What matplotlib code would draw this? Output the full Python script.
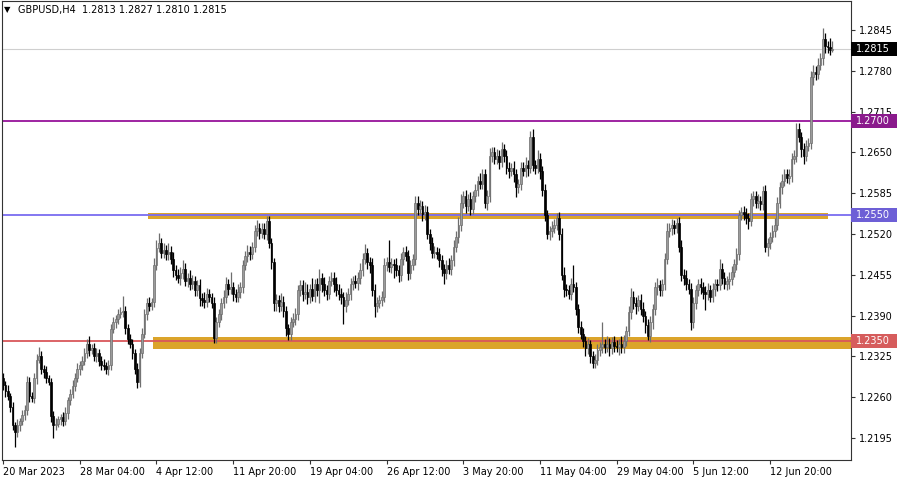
import matplotlib
matplotlib.use('Agg')
import matplotlib.pyplot as plt
import numpy as np
from matplotlib import transforms
from matplotlib.patches import Rectangle

plt.rcParams['font.family'] = 'DejaVu Sans'

# GBPUSD H4 closes (open = previous close)
first_open = 1.2290
closes = [
    1.2280, 1.2270, 1.2262, 1.2245, 1.2215, 1.2205, 1.2215, 1.2222, 1.2232, 1.2240,
    1.2285, 1.2262, 1.2258, 1.2290, 1.2320, 1.2325, 1.2305, 1.2300, 1.2290, 1.2285,
    1.2230, 1.2215, 1.2218, 1.2225, 1.2228, 1.2222, 1.2235, 1.2255, 1.2265, 1.2278,
    1.2290, 1.2305, 1.2312, 1.2318, 1.2330, 1.2345, 1.2335, 1.2338, 1.2325, 1.2330,
    1.2318, 1.2312, 1.2310, 1.2305, 1.2312, 1.2368, 1.2380, 1.2385, 1.2392, 1.2395,
    1.2398, 1.2370, 1.2352, 1.2345, 1.2330, 1.2305, 1.2285, 1.2330, 1.2360, 1.2392,
    1.2410, 1.2405, 1.2412, 1.2470, 1.2498, 1.2505, 1.2490, 1.2495, 1.2488, 1.2492,
    1.2480, 1.2462, 1.2455, 1.2450, 1.2458, 1.2465, 1.2445, 1.2450, 1.2440, 1.2445,
    1.2430, 1.2438, 1.2418, 1.2415, 1.2412, 1.2425, 1.2420, 1.2410, 1.2355, 1.2380,
    1.2392, 1.2410, 1.2420, 1.2440, 1.2432, 1.2435, 1.2425, 1.2420, 1.2428, 1.2435,
    1.2470, 1.2485, 1.2492, 1.2488, 1.2500, 1.2525, 1.2530, 1.2522, 1.2528, 1.2520,
    1.2540, 1.2505, 1.2475, 1.2410, 1.2415, 1.2405, 1.2412, 1.2398, 1.2370, 1.2360,
    1.2380, 1.2385, 1.2392, 1.2430, 1.2438, 1.2425, 1.2428, 1.2420, 1.2432, 1.2422,
    1.2440, 1.2430, 1.2450, 1.2440, 1.2430, 1.2425, 1.2445, 1.2450, 1.2440, 1.2430,
    1.2425, 1.2420, 1.2405, 1.2415, 1.2425, 1.2440, 1.2445, 1.2442, 1.2450, 1.2462,
    1.2480, 1.2490, 1.2475, 1.2470, 1.2430, 1.2405, 1.2410, 1.2415, 1.2420, 1.2470,
    1.2475, 1.2468, 1.2472, 1.2470, 1.2462, 1.2455, 1.2480, 1.2492, 1.2485, 1.2458,
    1.2470, 1.2480, 1.2570, 1.2560, 1.2565, 1.2552, 1.2555, 1.2520, 1.2505, 1.2490,
    1.2492, 1.2488, 1.2478, 1.2465, 1.2458, 1.2470, 1.2465, 1.2478, 1.2500, 1.2515,
    1.2535, 1.2570, 1.2580, 1.2565, 1.2575, 1.2560, 1.2580, 1.2590, 1.2605, 1.2600,
    1.2615, 1.2570, 1.2580, 1.2645, 1.2650, 1.2640, 1.2645, 1.2635, 1.2655, 1.2645,
    1.2625, 1.2620, 1.2625, 1.2615, 1.2595, 1.2600, 1.2625, 1.2620, 1.2630, 1.2625,
    1.2675, 1.2630, 1.2625, 1.2640, 1.2620, 1.2590, 1.2550, 1.2520, 1.2525, 1.2530,
    1.2535, 1.2545, 1.2520, 1.2455, 1.2432, 1.2430, 1.2425, 1.2440, 1.2435, 1.2400,
    1.2372, 1.2360, 1.2350, 1.2338, 1.2345, 1.2325, 1.2315, 1.2320, 1.2335, 1.2340,
    1.2345, 1.2340, 1.2345, 1.2338, 1.2348, 1.2342, 1.2340, 1.2345, 1.2340, 1.2350,
    1.2365, 1.2395, 1.2420, 1.2410, 1.2405, 1.2415, 1.2400, 1.2390, 1.2375, 1.2358,
    1.2380, 1.2400, 1.2435, 1.2438, 1.2430, 1.2440, 1.2480, 1.2525, 1.2530, 1.2535,
    1.2530, 1.2538, 1.2500, 1.2455, 1.2450, 1.2440, 1.2432, 1.2380, 1.2410, 1.2430,
    1.2440, 1.2435, 1.2428, 1.2425, 1.2430, 1.2420, 1.2432, 1.2440, 1.2438, 1.2465,
    1.2450, 1.2440, 1.2445, 1.2448, 1.2460, 1.2472, 1.2488, 1.2550, 1.2555, 1.2552,
    1.2545, 1.2540, 1.2575, 1.2580, 1.2570, 1.2572, 1.2568, 1.2588, 1.2500, 1.2505,
    1.2515, 1.2525, 1.2535, 1.2570, 1.2595, 1.2605, 1.2615, 1.2610, 1.2612, 1.2640,
    1.2645, 1.2688, 1.2675, 1.2655, 1.2645, 1.2660, 1.2665, 1.2770, 1.2778, 1.2775,
    1.2790, 1.2800, 1.2830, 1.2820, 1.2818, 1.2813, 1.2815,
]

# wick lengths in pips above / below the body
upper_wick = [
    8, 6, 9, 5, 7, 6, 10, 5, 8, 7,   9, 7, 6, 8, 9, 15, 8, 6, 9, 5,
    6, 8, 9, 5, 6, 8, 9, 6, 8, 9,   8, 9, 6, 8, 9, 8, 12, 6, 8, 9,
    6, 8, 9, 6, 8, 9, 8, 6, 9, 8,   23, 8, 6, 9, 8, 6, 9, 8, 10, 9,
    8, 9, 6, 12, 12, 17, 9, 10, 8, 14,  9, 12, 8, 9, 10, 13, 9, 8, 12, 9,
    8, 9, 10, 8, 12, 9, 8, 6, 10, 8,   9, 8, 10, 12, 9, 25, 9, 8, 12, 9,
    9, 8, 10, 9, 8, 9, 12, 8, 9, 10,   8, 9, 8, 6, 9, 8, 14, 9, 8, 6,
    8, 9, 10, 8, 9, 8, 16, 12, 9, 18,  9, 10, 14, 8, 12, 9, 8, 10, 9, 12,
    10, 9, 8, 12, 9, 10, 8, 9, 10, 12,   9, 14, 8, 9, 12, 10, 9, 8, 9, 12,
    9, 35, 9, 8, 12, 9, 10, 8, 9, 10,  9, 8, 10, 10, 9, 8, 12, 9, 8, 10,
    9, 8, 10, 9, 8, 9, 12, 8, 10, 9,   12, 14, 9, 10, 8, 12, 9, 10, 8, 12,
    9, 8, 10, 12, 9, 8, 10, 9, 12, 9,  9, 10, 8, 12, 9, 8, 10, 9, 12, 8,
    9, 12, 8, 14, 9, 8, 10, 9, 8, 10,  9, 8, 10, 9, 12, 8, 9, 10, 31, 9,
    8, 9, 10, 8, 9, 6, 8, 9, 10, 8,   35, 8, 12, 9, 8, 10, 9, 8, 12, 9,
    9, 10, 14, 9, 10, 8, 9, 12, 8, 9,  10, 8, 9, 12, 8, 9, 10, 12, 8, 9,
    8, 8, 9, 10, 9, 12, 8, 10, 9, 8,   9, 10, 8, 9, 12, 8, 10, 9, 8, 15,
    9, 10, 8, 12, 9, 8, 10, 9, 8, 9,   9, 8, 10, 9, 8, 12, 9, 9, 10, 9,
    8, 9, 10, 9, 8, 10, 9, 8, 12, 9,   9, 9, 9, 8, 10, 9, 8, 9, 12, 9,
    10, 9, 18, 10, 8, 14, 12,
]
lower_wick = [
    8, 9, 6, 9, 8, 24, 8, 9, 6, 8,  8, 9, 6, 8, 9, 6, 8, 9, 8, 6,
    9, 20, 8, 6, 9, 8, 6, 9, 8, 6,  8, 6, 9, 8, 6, 8, 9, 6, 8, 9,
    8, 9, 6, 8, 9, 8, 6, 9, 8, 6,   8, 9, 8, 6, 9, 8, 10, 9, 8, 6,
    9, 8, 6, 9, 8, 6, 9, 8, 10, 9,   8, 10, 9, 8, 12, 9, 8, 10, 9, 8,
    9, 8, 12, 9, 10, 8, 9, 8, 9, 9,   8, 9, 8, 10, 9, 8, 12, 9, 8, 10,
    9, 8, 10, 9, 8, 9, 8, 10, 9, 8,   9, 8, 10, 12, 13, 9, 8, 10, 12, 9,
    9, 8, 10, 9, 8, 12, 9, 12, 10, 9,  10, 9, 20, 12, 9, 10, 9, 8, 12, 9,
    10, 12, 28, 9, 8, 10, 9, 8, 12, 9,  9, 8, 10, 12, 9, 17, 9, 8, 10, 9,
    9, 8, 10, 20, 9, 12, 10, 9, 8, 11, 9, 8, 10, 9, 8, 12, 9, 8, 10, 9,
    9, 8, 10, 12, 18, 9, 8, 10, 9, 8,  9, 10, 8, 12, 9, 10, 8, 9, 10, 8,
    9, 8, 12, 9, 10, 8, 9, 12, 8, 10,   9, 10, 8, 12, 16, 9, 10, 8, 9, 12,
    8, 10, 9, 8, 12, 9, 10, 8, 9, 10,   9, 8, 10, 9, 12, 8, 9, 10, 8, 9,
    9, 8, 10, 12, 9, 10, 8, 9, 8, 10,   9, 10, 8, 12, 9, 10, 8, 12, 9, 10,
    9, 8, 10, 9, 12, 8, 9, 10, 12, 7,   10, 12, 9, 12, 8, 9, 10, 8, 9, 12,
    10, 8, 9, 10, 12, 9, 8, 13, 9, 10,  9, 10, 12, 26, 10, 9, 8, 10, 9, 8,
    9, 8, 10, 12, 9, 8, 10, 9, 8, 10,   9, 12, 8, 10, 9, 8, 10, 9, 8, 15,
    9, 8, 10, 9, 8, 12, 9, 8, 10, 9,   8, 10, 9, 12, 13, 9, 8, 10, 12, 9,
    8, 9, 10, 12, 9, 8, 3,
]

date_labels = ['20 Mar 2023', '28 Mar 04:00', '4 Apr 12:00', '11 Apr 20:00',
               '19 Apr 04:00', '26 Apr 12:00', '3 May 20:00', '11 May 04:00',
               '29 May 04:00', '5 Jun 12:00', '12 Jun 20:00']
date_bars = [0, 32, 64, 96, 128, 160, 192, 224, 256, 288, 320]
price_ticks = [1.2845, 1.2780, 1.2715, 1.2650, 1.2585, 1.2520, 1.2455,
               1.2390, 1.2325, 1.2260, 1.2195]

# levels: (price, line colour, label background)
levels = [(1.2700, '#96139a', '#8a1a8c'),
          (1.2550, '#7a6cf0', '#6d5fd6'),
          (1.2350, '#d9575b', '#d65c5c')]
last_price = 1.2815
# zones: (start bar, end bar or None for right edge, low, high)
zones = [(60.5, 344.2, 1.25434, 1.25530),
         (62.6, None, 1.23368, 1.23559)]

c = np.array(closes)
o = np.array([first_open] + closes[:-1])
hi = np.maximum(o, c) + np.array(upper_wick) / 10000
lo = np.minimum(o, c) - np.array(lower_wick) / 10000
n = len(c)
x = np.arange(n)

fig = plt.figure(figsize=(9, 4.8), dpi=100)
ax = fig.add_axes([2 / 900, 20 / 480, 849 / 900, 459 / 480])
px = 1 / 2.397
ax.set_xlim(-px, -px + 849 * px)
ax.set_ylim(1.2845 - 430 / 6277, 1.2845 + 29 / 6277)

# zones and levels
for x0, x1, z_lo, z_hi in zones:
    if x1 is None:
        x1 = ax.get_xlim()[1]
    ax.fill_between([x0, x1], z_lo, z_hi, color='#dba42a', lw=0, zorder=1)
ax.axhline(last_price, color='#cfcfcf', lw=0.8, zorder=0.5)
for price, col, _ in levels:
    ax.axhline(price, color=col, lw=1.3, zorder=1.5)

# candles
bull = c >= o
bull_wick, bear_col = '#6e6e6e', '#000000'
wick_cols = [bull_wick if b else bear_col for b in bull]
ax.vlines(x, lo, hi, colors=wick_cols, lw=0.9, zorder=2)
body_lo = np.minimum(o, c)
body_h = np.maximum(np.abs(c - o), 0.00008)
ax.bar(x, body_h, bottom=body_lo, width=0.72,
       color=['#9b9b9b' if b else bear_col for b in bull],
       edgecolor=wick_cols, lw=0.5, zorder=2.5)

# axes styling
for s in ax.spines.values():
    s.set_color('#333333')
    s.set_linewidth(0.8)
ax.yaxis.tick_right()
ax.set_yticks(price_ticks)
ax.set_yticklabels([f'{p:.4f}' for p in price_ticks])
ax.set_xticks(date_bars)
ax.set_xticklabels(date_labels)
for lab in ax.get_xticklabels():
    lab.set_ha('left')
ax.tick_params(axis='both', labelsize=7, length=3, width=0.8, color='#333333')
ax.tick_params(axis='y', pad=3)
ax.tick_params(axis='x', pad=2)

# highlighted price labels on the right scale
trans = transforms.blended_transform_factory(ax.transAxes, ax.transData)
box_w = 46 / 849
box_h = 14 / 6277
for price, lab_col in [(last_price, '#000000')] + [(p, bc) for p, _, bc in levels]:
    ax.add_patch(Rectangle((1.0, price - box_h / 2), box_w, box_h, transform=trans,
                           facecolor=lab_col, edgecolor='none', clip_on=False, zorder=5))
    ax.text(1.0 + 5 / 849, price, f'{price:.4f}', transform=trans, ha='left', va='center',
            fontsize=7, color='white', zorder=6, clip_on=False)

fig.text(4 / 900, 1 - 10 / 480, '\u25bc', fontsize=6, va='center', ha='left')
fig.text(18 / 900, 1 - 10 / 480, 'GBPUSD,H4  1.2813 1.2827 1.2810 1.2815',
         fontsize=7, va='center', ha='left')

fig.savefig('out.png', dpi=100, facecolor='white')
